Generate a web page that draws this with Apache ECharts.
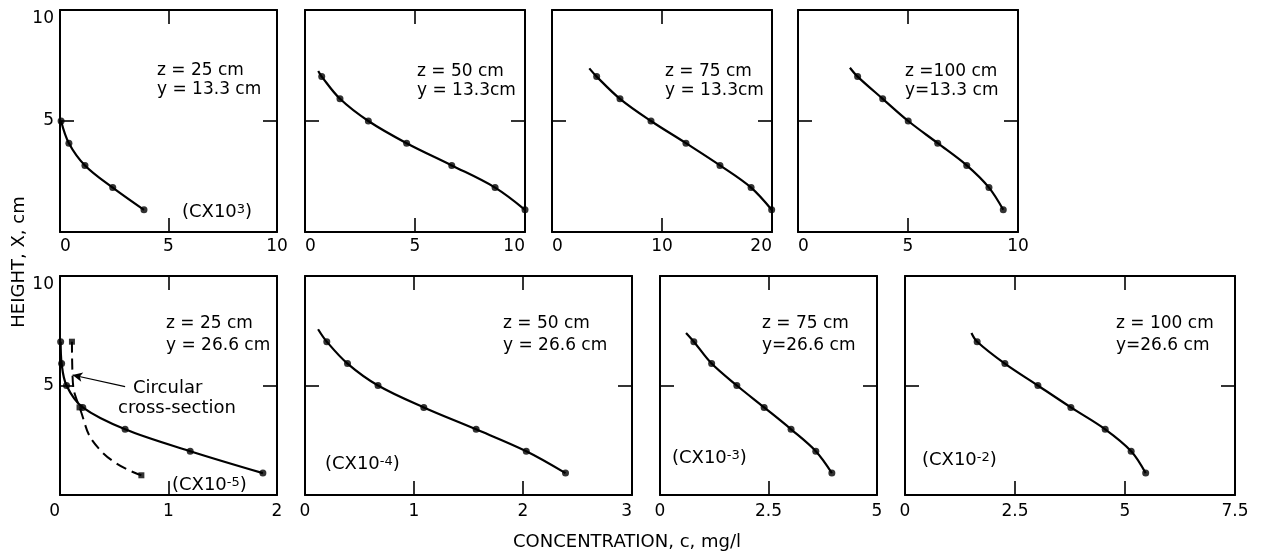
<!DOCTYPE html>
<html><head><meta charset="utf-8">
<script src="https://cdn.jsdelivr.net/npm/echarts@6/dist/echarts.min.js"></script>
<style>html,body{margin:0;padding:0;background:#fff}#c{width:1267px;height:560px}</style>
</head><body><div id="c"></div>
<script>
// ---------- DATA ----------
const heights7 = [7, 6, 5, 4, 3, 2, 1];
const heights5 = [5, 4, 3, 2, 1];

// top row: y = 13.3 cm
const p1Conc = [0.05, 0.41, 1.15, 2.43, 3.87];           // z = 25 cm  (C x 10^3)
const p2Conc = [0.76, 1.59, 2.88, 4.62, 6.67, 8.64, 10.0]; // z = 50 cm
const p3Conc = [4.06, 6.18, 9.0, 12.18, 15.27, 18.1, 19.97]; // z = 75 cm
const p4Conc = [2.71, 3.85, 5.01, 6.35, 7.67, 8.68, 9.33];   // z = 100 cm
// bottom row: y = 26.6 cm
const p5Conc = [0.006, 0.015, 0.06, 0.21, 0.6, 1.2, 1.87];  // z = 25 cm (C x 10^-5)
const p6Conc = [0.2, 0.39, 0.67, 1.09, 1.57, 2.03, 2.39];   // z = 50 cm (C x 10^-4)
const p7Conc = [0.78, 1.19, 1.77, 2.4, 3.02, 3.59, 3.96];   // z = 75 cm (C x 10^-3)
const p8Conc = [1.64, 2.27, 3.02, 3.77, 4.55, 5.14, 5.47];  // z = 100 cm (C x 10^-2)

// where each drawn curve begins (above its first point)
const curveStarts = [null, [0.6, 7.25], [3.39, 7.37], [2.36, 7.4], null, [0.12, 7.57], [0.6, 7.4], [1.51, 7.4]];

// circular cross-section (dashed curve), z = 25 cm, y = 26.6 cm
const circPathConc = [0.11, 0.115, 0.18, 0.37, 0.75];
const circPathHeight = [7.0, 5.5, 4.0, 2.05, 0.9];
const circMarkConc = [0.11, 0.18, 0.75];
const circMarkHeight = [7.0, 4.0, 0.9];
const arrowFrom = [0.6, 4.95];
const arrowTo = [0.115, 5.48];

// tick labels
const yTicks = [0, 5, 10];
const xTicksList = [
  [0, 5, 10], [0, 5, 10], [0, 10, 20], [0, 5, 10],
  [0, 1, 2], [0, 1, 2, 3], [0, 2.5, 5], [0, 2.5, 5, 7.5]
];

// texts
const zTexts = ['z = 25 cm', 'z = 50 cm', 'z = 75 cm', 'z =100 cm', 'z = 25 cm', 'z = 50 cm', 'z = 75 cm', 'z = 100 cm'];
const yTexts = ['y = 13.3 cm', 'y = 13.3cm', 'y = 13.3cm', 'y=13.3 cm', 'y = 26.6 cm', 'y = 26.6 cm', 'y=26.6 cm', 'y=26.6 cm'];
const scaleExps = ['3', null, null, null, '-5', '-4', '-3', '-2'];
const circText = ['Circular', 'cross-section'];
const xTitle = 'CONCENTRATION, c, mg/l';
const yTitle = 'HEIGHT, X, cm';

// ---------- LAYOUT ----------
const FONT = 'DejaVu Sans';
const grids = [
  {left: 60, top: 10, width: 217, height: 222},
  {left: 305, top: 10, width: 220, height: 222},
  {left: 552, top: 10, width: 220, height: 222},
  {left: 798, top: 10, width: 220, height: 222},
  {left: 60, top: 276, width: 217, height: 219},
  {left: 305, top: 276, width: 327, height: 219},
  {left: 660, top: 276, width: 217, height: 219},
  {left: 905, top: 276, width: 330, height: 219}
];
const minAlign = ['left', 'left', 'left', 'left', 'right', 'center', 'center', 'center'];
const maxAlign = ['center', 'right', 'right', 'center', 'center', 'right', 'center', 'center'];
const annPos = [
  [157, 62, 81], [417, 63, 82], [665, 63, 82], [905, 63, 82],
  [166, 315, 337], [503, 315, 337], [762, 315, 337], [1116, 315, 337]
];
const scalePos = [[182, 203], null, null, null, [172, 476], [325, 455], [672, 449], [922, 451]];

const concs = [p1Conc, p2Conc, p3Conc, p4Conc, p5Conc, p6Conc, p7Conc, p8Conc];
const hts = [heights5, heights7, heights7, heights7, heights7, heights7, heights7, heights7];

const zip = (a, b) => a.map((v, i) => [v, b[i]]);
const axisLine = {show: true, onZero: false, lineStyle: {color: '#000', width: 2}};
const axisTick = {show: true, inside: true, length: 14, lineStyle: {color: '#000', width: 1.6}};
const TXT = '17px "' + FONT + '"';

const option = {
  animation: false,
  backgroundColor: '#fff',
  grid: grids.map(g => Object.assign({containLabel: false}, g)),
  xAxis: [], yAxis: [], series: [], graphic: []
};

grids.forEach((g, i) => {
  const xt = xTicksList[i];
  const xmin = xt[0], xmax = xt[xt.length - 1], xint = xt[1] - xt[0];
  const bottomRow = i >= 4;
  option.xAxis.push({
    type: 'value', gridIndex: i, position: 'bottom', min: xmin, max: xmax, interval: xint,
    axisLine, axisTick, splitLine: {show: false},
    axisLabel: {show: true, color: '#000', fontFamily: FONT, fontSize: 17, margin: bottomRow ? 8 : 6,
      alignMinLabel: minAlign[i], alignMaxLabel: maxAlign[i],
      formatter: v => String(v)}
  });
  option.xAxis.push({
    type: 'value', gridIndex: i, position: 'top', min: xmin, max: xmax, interval: xint,
    axisLine, axisTick, splitLine: {show: false}, axisLabel: {show: false}
  });
  const showY = (i === 0 || i === 4);
  option.yAxis.push({
    type: 'value', gridIndex: i, position: 'left', min: yTicks[0], max: yTicks[yTicks.length - 1], interval: yTicks[1] - yTicks[0],
    axisLine, axisTick, splitLine: {show: false},
    axisLabel: {show: showY, color: '#000', fontFamily: FONT, fontSize: 17, margin: 6,
      formatter: v => v === 10 ? '{t|10}' : (v === 0 ? '' : String(v)),
      rich: {t: {fontFamily: FONT, fontSize: 17, color: '#000', padding: [18, 0, 0, 0]}}}
  });
  option.yAxis.push({
    type: 'value', gridIndex: i, position: 'right', min: yTicks[0], max: yTicks[yTicks.length - 1], interval: yTicks[1] - yTicks[0],
    axisLine, axisTick, splitLine: {show: false}, axisLabel: {show: false}
  });
  const xi = i * 2, yi = i * 2;
  const pts = zip(concs[i], hts[i]);
  const curve = curveStarts[i] ? [curveStarts[i]].concat(pts) : pts;
  option.series.push({
    type: 'line', xAxisIndex: xi, yAxisIndex: yi, data: curve, smooth: 0.35,
    showSymbol: false, lineStyle: {color: '#000', width: 2.2}, z: 3
  });
  option.series.push({
    type: 'scatter', xAxisIndex: xi, yAxisIndex: yi, data: pts, symbol: 'circle', symbolSize: 7,
    itemStyle: {color: '#000'}, z: 4
  });
  // annotation texts
  const a = annPos[i];
  option.graphic.push({type: 'text', left: a[0], top: a[1], style: {text: zTexts[i], font: TXT, fill: '#000'}});
  option.graphic.push({type: 'text', left: a[0], top: a[2], style: {text: yTexts[i], font: TXT, fill: '#000'}});
  if (scaleExps[i]) {
    const s = scalePos[i];
    option.graphic.push({type: 'text', left: s[0], top: s[1], style: {
      text: '{n|(CX10}{s|' + scaleExps[i] + '}{n|)}',
      rich: {n: {fontFamily: FONT, fontSize: 18, fill: '#000', color: '#000'},
             s: {fontFamily: FONT, fontSize: 13, fill: '#000', color: '#000', verticalAlign: 'top'}}
    }});
  }
});

// circular cross-section series on panel 5 (index 4)
option.series.push({
  type: 'line', xAxisIndex: 8, yAxisIndex: 8, data: zip(circPathConc, circPathHeight), smooth: 0.5,
  showSymbol: false, lineStyle: {color: '#000', width: 2, type: [11, 6]}, z: 3,
  markLine: {silent: true, symbol: ['none', 'arrow'], symbolSize: [7, 10], label: {show: false},
    lineStyle: {color: '#000', width: 1.2, type: 'solid'},
    data: [[{coord: arrowFrom}, {coord: arrowTo}]]}
});
option.series.push({
  type: 'scatter', xAxisIndex: 8, yAxisIndex: 8, data: zip(circMarkConc, circMarkHeight), symbol: 'rect', symbolSize: 6,
  itemStyle: {color: '#000'}, z: 4
});
option.graphic.push({type: 'text', left: 133, top: 379, style: {text: circText[0], font: '18px "' + FONT + '"', fill: '#000'}});
option.graphic.push({type: 'text', left: 118, top: 399, style: {text: circText[1], font: '18px "' + FONT + '"', fill: '#000'}});

// axis titles
option.graphic.push({type: 'text', left: 513, top: 533, style: {text: xTitle, font: '18px "' + FONT + '"', fill: '#000'}});
option.graphic.push({type: 'text', x: 19, y: 262, rotation: Math.PI / 2,
  style: {text: yTitle, font: '18px "' + FONT + '"', fill: '#000', align: 'center', verticalAlign: 'middle'}});

const chart = echarts.init(document.getElementById('c'), null, {renderer: 'canvas'});
chart.setOption(option);
</script></body></html>
